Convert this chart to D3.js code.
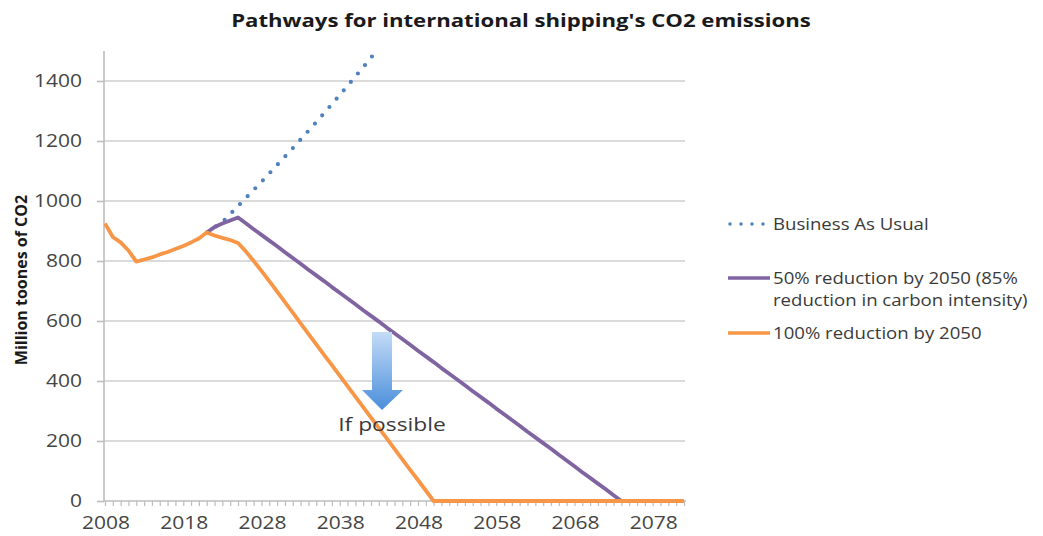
<!DOCTYPE html>
<html><head><meta charset="utf-8">
<script src="https://cdn.jsdelivr.net/npm/d3@7"></script>
<style>body{margin:0;background:#fff}svg{display:block}text{font-family:"Open Sans",sans-serif}</style>
</head><body>
<svg id="c" width="1043" height="536"></svg>
<script>
// ---- data ----
const years = [2008,2009,2010,2011,2012,2013,2014,2015,2016,2017,2018,2019,2020,2021,2022,2023,2024,2025,2026,2027,
2028,2029,2030,2031,2032,2033,2034,2035,2036,2037,2038,2039,2040,2041,2042,2043,2044,2045,2046,2047,
2048,2049,2050,2051,2052,2053,2054,2055,2056,2057,2058,2059,2060,2061,2062,2063,2064,2065,2066,2067,
2068,2069,2070,2071,2072,2073,2074,2075,2076,2077,2078,2079,2080,2081,2082];
const bauValues = [null,null,null,null,null,null,null,null,null,null,null,null,null,
895,912,930,956,983,1010,1037,1064,1092,1120,1148,1176,1205,1234,1263,1293,1323,1353,1384,1415,1446,1478,1510,
null,null,null,null,null,null,null,null,null,null,null,null,null,null,null,null,null,null,null,null,
null,null,null,null,null,null,null,null,null,null,null,null,null,null,null,null,null,null,null];
const half2050Values = [null,null,null,null,null,null,null,null,null,null,null,null,null,
895,913,925,935,945,926,906,887,868,849,829,810,791,771,752,733,713,694,675,656,636,617,598,578,559,
540,521,501,482,463,443,424,405,386,366,347,328,308,289,270,251,231,212,193,174,154,135,116,96,77,58,39,19,0,
0,0,0,0,0,0,0,0];
const full2050Values = [925,880,862,835,798,805,812,822,830,840,850,862,875,895,885,877,870,860,832,800,
767,733,698,663,628,592,557,522,487,453,418,383,348,313,278,244,209,174,139,104,70,35,0,
0,0,0,0,0,0,0,0,0,0,0,0,0,0,0,0,0,0,0,0,0,0,0,0,0,0,0,0,0,0,0,0];
const xTickLabels = [2008,2018,2028,2038,2048,2058,2068,2078];
const yTicks = [0,200,400,600,800,1000,1200,1400];
const title = "Pathways for international shipping's CO2 emissions";
const yTitle = "Million toones of CO2";
const legendLabels = [["Business As Usual"],["50% reduction by 2050 (85%","reduction in carbon intensity)"],["100% reduction by 2050"]];
const annotation = "If possible";

// ---- layout ----
const SX = 1.2;
const svg = d3.select("#c");
const plot = {left:104, right:685, top:51, bottom:501};
const x = d3.scaleLinear().domain([2008,2082]).range([105,684]);
const y = d3.scaleLinear().domain([0,1500]).range([plot.bottom, plot.top]);

function sText(g, tx, ty, str, anchor, size, weight, fill, sx){
  return g.append("text").attr("transform",`translate(${tx},${ty}) scale(${sx||SX},1)`)
    .attr("text-anchor",anchor).attr("font-size",size).attr("font-weight",weight).attr("fill",fill).text(str);
}

// gridlines
svg.append("g").selectAll("line").data(yTicks.filter(d=>d>0)).join("line")
  .attr("x1",plot.left).attr("x2",plot.right).attr("y1",d=>y(d)).attr("y2",d=>y(d))
  .attr("stroke","#cfcfcf").attr("stroke-width",1.6);

// y axis
const yAx = svg.append("g").attr("transform",`translate(${plot.left},0)`)
  .call(d3.axisLeft(y).tickValues(yTicks).tickSize(7).tickFormat(""));
yAx.select(".domain").attr("d",`M0,${plot.top}V${plot.bottom}`).attr("stroke","#bdbdbd").attr("stroke-width",1.6);
yAx.selectAll(".tick line").attr("stroke","#bdbdbd").attr("stroke-width",1.6);
yTicks.forEach(v=> sText(svg, 82, y(v)+6, String(v), "end", 17.5, 400, "#454545"));

// x axis
const xAx = svg.append("g").attr("transform",`translate(0,${plot.bottom})`)
  .call(d3.axisBottom(x).tickValues(years).tickSize(5).tickFormat(""));
xAx.select(".domain").attr("d",`M${plot.left},0H${plot.right+1}`).attr("stroke","#bdbdbd").attr("stroke-width",1.6);
xAx.selectAll(".tick line").attr("stroke","#bdbdbd").attr("stroke-width",1.2);
xTickLabels.forEach(v=> sText(svg, x(v)+1, 529, String(v), "middle", 17.5, 400, "#454545"));

// clip
svg.append("clipPath").attr("id","clip").append("rect")
  .attr("x",plot.left).attr("y",plot.top).attr("width",plot.right-plot.left+5).attr("height",plot.bottom-plot.top+5);

const line = vals => d3.line().defined((d,i)=>vals[i]!==null).x((d,i)=>x(years[i])).y((d,i)=>y(vals[i]))(years);
const lines = svg.append("g").attr("clip-path","url(#clip)");
lines.append("path").attr("d",line(bauValues)).attr("fill","none").attr("stroke","#4f81bd")
  .attr("stroke-width",4.2).attr("stroke-dasharray","0 11").attr("stroke-linecap","round");
lines.append("path").attr("d",line(half2050Values)).attr("fill","none").attr("stroke","#8064a2")
  .attr("stroke-width",3.8).attr("stroke-linejoin","round");
lines.append("path").attr("d",line(full2050Values)).attr("fill","none").attr("stroke","#f79646")
  .attr("stroke-width",3.8).attr("stroke-linejoin","round");

// arrow
const defs = svg.append("defs");
const gr = defs.append("linearGradient").attr("id","ag").attr("x1",0).attr("y1",0).attr("x2",0).attr("y2",1);
gr.append("stop").attr("offset","0%").attr("stop-color","#c3dcf7");
gr.append("stop").attr("offset","100%").attr("stop-color","#4a8edb");
svg.append("path").attr("d","M372,332H392V390H403L382,410L362,390H372Z").attr("fill","url(#ag)");
sText(svg, 392, 431, annotation, "middle", 19, 400, "#3a3a3a");

// title
sText(svg, 521, 27, title, "middle", 18, 700, "#1a1a1a", 1.23);
svg.append("text").attr("transform","translate(27,280) rotate(-90)").attr("text-anchor","middle")
  .attr("font-size",16).attr("font-weight",700).attr("fill","#1a1a1a").text(yTitle);

// legend
const lg = svg.append("g");
const lgY = [224, 278, 333];
lg.append("line").attr("x1",730).attr("x2",766).attr("y1",lgY[0]).attr("y2",lgY[0]).attr("stroke","#4f81bd")
  .attr("stroke-width",3.5).attr("stroke-dasharray","0 11").attr("stroke-linecap","round");
lg.append("line").attr("x1",728).attr("x2",770).attr("y1",lgY[1]).attr("y2",lgY[1]).attr("stroke","#8064a2").attr("stroke-width",3.6);
lg.append("line").attr("x1",728).attr("x2",770).attr("y1",lgY[2]).attr("y2",lgY[2]).attr("stroke","#f79646").attr("stroke-width",3.6);
sText(lg, 773, lgY[0]+5.5, legendLabels[0][0], "start", 15.5, 400, "#3a3a3a");
sText(lg, 773, lgY[1]+5.5, legendLabels[1][0], "start", 15.5, 400, "#3a3a3a");
sText(lg, 773, lgY[1]+28, legendLabels[1][1], "start", 15.5, 400, "#3a3a3a");
sText(lg, 773, lgY[2]+5.5, legendLabels[2][0], "start", 15.5, 400, "#3a3a3a");
</script>
</body></html>
